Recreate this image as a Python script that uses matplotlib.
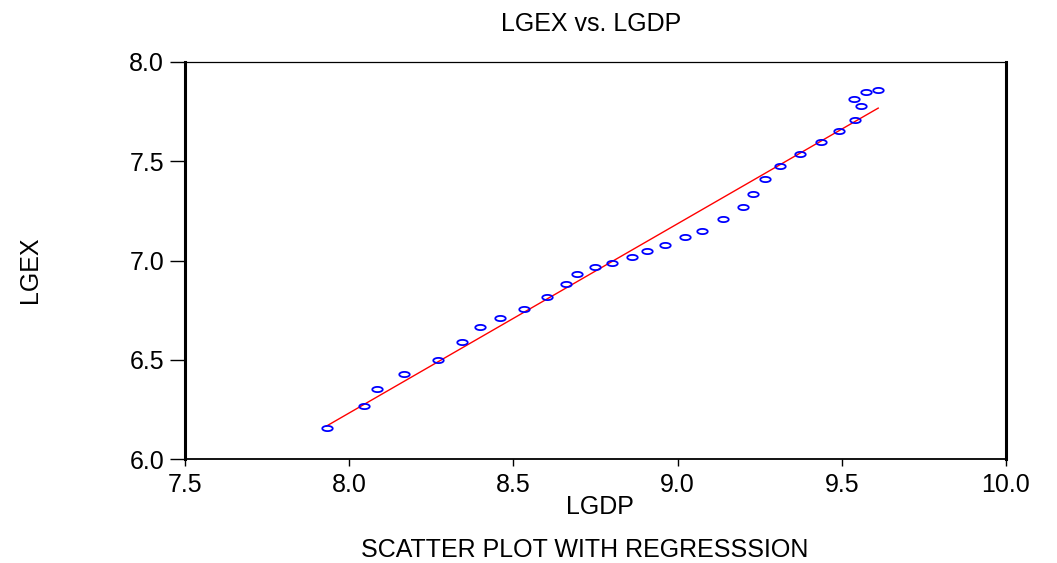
import numpy as np
import matplotlib
matplotlib.use("Agg")
import matplotlib.pyplot as plt
from matplotlib.path import Path

# Log GDP and log expenditure observations
lgdp = [7.931, 8.045, 8.085, 8.168, 8.272, 8.343, 8.398, 8.458, 8.533, 8.603,
        8.660, 8.693, 8.749, 8.800, 8.860, 8.906, 8.962, 9.022, 9.075, 9.137,
        9.198, 9.231, 9.266, 9.311, 9.373, 9.436, 9.493, 9.541, 9.559, 9.536,
        9.574, 9.611]
lgex = [6.156, 6.266, 6.353, 6.426, 6.499, 6.588, 6.663, 6.712, 6.757, 6.814,
        6.881, 6.931, 6.965, 6.988, 7.018, 7.049, 7.079, 7.116, 7.149, 7.211,
        7.270, 7.335, 7.409, 7.477, 7.534, 7.596, 7.651, 7.709, 7.780, 7.813,
        7.848, 7.859]

x_ticks = [7.5, 8.0, 8.5, 9.0, 9.5, 10.0]
y_ticks = [6.0, 6.5, 7.0, 7.5, 8.0]

plt.rcParams['font.family'] = ['Liberation Sans', 'DejaVu Sans']
FS = 18

fig = plt.figure(figsize=(10.57, 5.63), dpi=100)
ax = fig.add_axes([0.175, 0.1847, 0.7767, 0.7052])

# Flattened ellipse used as the point marker
t = np.linspace(0, 2 * np.pi, 60)
ellipse = Path(np.column_stack([np.cos(t), 0.5 * np.sin(t)]), closed=True)

x = np.array(lgdp)
y = np.array(lgex)
ax.plot(x, y, linestyle='none', marker=ellipse, markersize=7.5,
        markerfacecolor='none', markeredgecolor='#0000ff', markeredgewidth=1.3,
        zorder=3)

# Least-squares regression line over the observed range
slope, intercept = np.polyfit(x, y, 1)
xl = np.array([x.min(), x.max()])
ax.plot(xl, intercept + slope * xl, color='#ff0000', linewidth=1.0, zorder=2)

ax.set_xlim(7.5, 10.0)
ax.set_ylim(6.0, 8.0)
ax.set_xticks(x_ticks)
ax.set_yticks(y_ticks)
ax.set_xticklabels([f"{v:.1f}" for v in x_ticks], fontsize=FS)
ax.set_yticklabels([f"{v:.1f}" for v in y_ticks], fontsize=FS)
ax.tick_params(axis='x', direction='out', length=5, width=1.0, pad=5)
ax.tick_params(axis='y', direction='out', length=11, width=1.0, pad=4)

ax.spines['left'].set_linewidth(2.2)
ax.spines['right'].set_linewidth(2.2)
ax.spines['top'].set_linewidth(0.9)
ax.spines['bottom'].set_linewidth(1.3)

fig.text(0.559, 0.957, "LGEX vs. LGDP", fontsize=FS, ha='center', va='center')
ax.set_xlabel("LGDP", fontsize=FS, va='center')
ax.xaxis.set_label_coords(0.505, -0.121)
ax.set_ylabel("LGEX", fontsize=FS, va='center')
ax.yaxis.set_label_coords(-0.189, 0.476)
fig.text(0.553, 0.023, "SCATTER PLOT WITH REGRESSSION", fontsize=FS,
         ha='center', va='center')

fig.savefig("out.png", dpi=100)
